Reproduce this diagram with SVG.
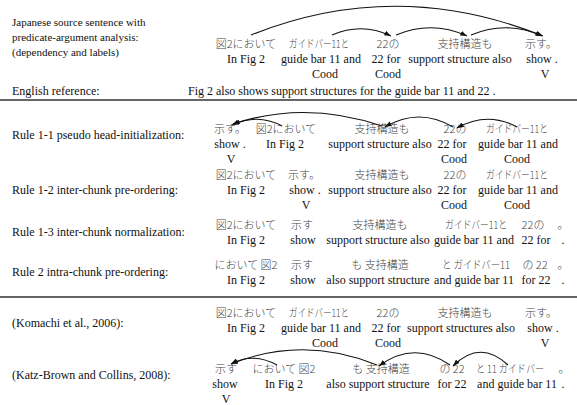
<svg xmlns="http://www.w3.org/2000/svg" width="577" height="405" viewBox="0 0 577 405">
<defs>
<style>
.lb{font-family:"Liberation Serif","Times New Roman",serif;font-size:12px;fill:#111}
.ls{font-family:"Liberation Serif","Times New Roman",serif;font-size:11px;fill:#111}
.en{font-family:"Liberation Serif","Times New Roman",serif;font-size:12px;fill:#111;text-anchor:middle}
.jp{font-family:"Noto Sans CJK JP",sans-serif;font-size:11px;font-weight:300;fill:#444;text-anchor:middle}
.arc{fill:none;stroke:#111;stroke-width:1.1;marker-end:url(#ah)}
.rule{stroke:#333;stroke-width:1.5}
</style>
<marker id="ah" viewBox="0 0 8 6" refX="8" refY="3" markerWidth="7" markerHeight="5" markerUnits="userSpaceOnUse" orient="auto">
<path d="M0,0 L8,3 L0,6 z" fill="#111"/>
</marker>
</defs>
<rect width="577" height="405" fill="#fff"/>

<g id="labels">
<text class="ls" x="12" y="26">Japanese source sentence with</text>
<text class="ls" x="12" y="41">predicate-argument analysis:</text>
<text class="ls" x="12" y="56">(dependency and labels)</text>
<text class="lb" x="12" y="95">English reference:</text>
<text class="lb" x="12" y="139">Rule 1-1 pseudo head-initialization:</text>
<text class="lb" x="12" y="194">Rule 1-2 inter-chunk pre-ordering:</text>
<text class="lb" x="12" y="236">Rule 1-3 inter-chunk normalization:</text>
<text class="lb" x="12" y="276">Rule 2 intra-chunk pre-ordering:</text>
<text class="lb" x="12" y="327">(Komachi et al., 2006):</text>
<text class="lb" x="12" y="379">(Katz-Brown and Collins, 2008):</text>
</g>

<g id="separators">
<line class="rule" x1="0" y1="100" x2="577" y2="100"/>
<line class="rule" x1="0" y1="297" x2="577" y2="297"/>
</g>

<g id="source">
<text class="jp" x="246" y="48">図2において</text>
<text class="jp" x="319" y="48" textLength="60" lengthAdjust="spacingAndGlyphs">ガイドバー11と</text>
<text class="jp" x="388" y="48">22の</text>
<text class="jp" x="465" y="48">支持構造も</text>
<text class="jp" x="541" y="48">示す。</text>
<text class="en" x="246" y="63">In Fig 2</text>
<text class="en" x="321" y="63">guide bar 11 and</text>
<text class="en" x="386" y="63">22 for</text>
<text class="en" x="460" y="63">support structure also</text>
<text class="en" x="542" y="63">show .</text>
<text class="en" x="325" y="78">Cood</text>
<text class="en" x="388" y="78">Cood</text>
<text class="en" x="545" y="78">V</text>
<text class="lb" x="188" y="95">Fig 2 also shows support structures for the guide bar 11 and 22 .</text>
</g>

<g id="rule11">
<text class="jp" x="230" y="133">示す。</text>
<text class="jp" x="286" y="133">図2において</text>
<text class="jp" x="382" y="133">支持構造も</text>
<text class="jp" x="455" y="133">22の</text>
<text class="jp" x="517" y="133" textLength="62" lengthAdjust="spacingAndGlyphs">ガイドバー11と</text>
<text class="en" x="230" y="148">show .</text>
<text class="en" x="285" y="148">In Fig 2</text>
<text class="en" x="380" y="148">support structure also</text>
<text class="en" x="452" y="148">22 for</text>
<text class="en" x="518" y="148">guide bar 11 and</text>
<text class="en" x="231" y="163">V</text>
<text class="en" x="454" y="163">Cood</text>
<text class="en" x="517" y="163">Cood</text>
</g>

<g id="rule12">
<text class="jp" x="246" y="179">図2において</text>
<text class="jp" x="304" y="179">示す。</text>
<text class="jp" x="382" y="179">支持構造も</text>
<text class="jp" x="455" y="179">22の</text>
<text class="jp" x="517" y="179" textLength="62" lengthAdjust="spacingAndGlyphs">ガイドバー11と</text>
<text class="en" x="246" y="194">In Fig 2</text>
<text class="en" x="305" y="194">show .</text>
<text class="en" x="380" y="194">support structure also</text>
<text class="en" x="452" y="194">22 for</text>
<text class="en" x="518" y="194">guide bar 11 and</text>
<text class="en" x="306" y="209">V</text>
<text class="en" x="454" y="209">Cood</text>
<text class="en" x="517" y="209">Cood</text>
</g>

<g id="rule13">
<text class="jp" x="246" y="229">図2において</text>
<text class="jp" x="302" y="229">示す</text>
<text class="jp" x="380" y="229">支持構造も</text>
<text class="jp" x="476" y="229" textLength="62" lengthAdjust="spacingAndGlyphs">ガイドバー11と</text>
<text class="jp" x="533" y="229">22の</text>
<text class="jp" x="563" y="229">。</text>
<text class="en" x="246" y="244">In Fig 2</text>
<text class="en" x="303" y="244">show</text>
<text class="en" x="378" y="244">support structure also</text>
<text class="en" x="474" y="244">guide bar 11 and</text>
<text class="en" x="536" y="244">22 for</text>
<text class="en" x="563" y="244">.</text>
</g>

<g id="rule2">
<text class="jp" x="246" y="269">において 図2</text>
<text class="jp" x="302" y="269">示す</text>
<text class="jp" x="380" y="269">も 支持構造</text>
<text class="jp" x="476" y="269" textLength="68" lengthAdjust="spacingAndGlyphs">と ガイドバー11</text>
<text class="jp" x="535" y="269">の 22</text>
<text class="jp" x="563" y="269">。</text>
<text class="en" x="246" y="284">In Fig 2</text>
<text class="en" x="303" y="284">show</text>
<text class="en" x="378" y="284">also support structure</text>
<text class="en" x="474" y="284">and guide bar 11</text>
<text class="en" x="536" y="284">for 22</text>
<text class="en" x="563" y="284">.</text>
</g>

<g id="komachi">
<text class="jp" x="246" y="317">図2において</text>
<text class="jp" x="319" y="317" textLength="60" lengthAdjust="spacingAndGlyphs">ガイドバー11と</text>
<text class="jp" x="388" y="317">22の</text>
<text class="jp" x="465" y="317">支持構造も</text>
<text class="jp" x="541" y="317">示す。</text>
<text class="en" x="246" y="332">In Fig 2</text>
<text class="en" x="321" y="332">guide bar 11 and</text>
<text class="en" x="386" y="332">22 for</text>
<text class="en" x="461" y="332">support structures also</text>
<text class="en" x="543" y="332">show .</text>
<text class="en" x="325" y="347">Cood</text>
<text class="en" x="388" y="347">Cood</text>
<text class="en" x="545" y="347">V</text>
</g>

<g id="katzbrown">
<text class="jp" x="226" y="373">示す</text>
<text class="jp" x="284" y="373">において 図2</text>
<text class="jp" x="381" y="373">も 支持構造</text>
<text class="jp" x="452" y="373">の 22</text>
<text class="jp" x="510" y="373" textLength="68" lengthAdjust="spacingAndGlyphs">と 11 ガイドバー</text>
<text class="jp" x="564" y="373">。</text>
<text class="en" x="225" y="388">show</text>
<text class="en" x="284" y="388">In Fig 2</text>
<text class="en" x="378" y="388">also support structure</text>
<text class="en" x="452" y="388">for 22</text>
<text class="en" x="517" y="388">and guide bar 11</text>
<text class="en" x="563" y="388">.</text>
<text class="en" x="226" y="403">V</text>
</g>

<g id="connectors">
<path class="arc" d="M251,35 Q396,-23 543,36"/>
<path class="arc" d="M332,35 Q362,22 391,36"/>
<path class="arc" d="M396,35 Q432,20 467,36"/>
<path class="arc" d="M471,35 Q507,20 542,36"/>

<path class="arc" d="M282,126 Q258,113 232,125"/>
<path class="arc" d="M382,126 Q305,100 233,124"/>
<path class="arc" d="M453,127 Q419,107 385,127"/>
<path class="arc" d="M517,127 Q487,111 457,128"/>

<path class="arc" d="M277,365 Q253,352 231,364"/>
<path class="arc" d="M377,365 Q303,335 231,364"/>
<path class="arc" d="M450,365 Q414,340 379,366"/>
<path class="arc" d="M508,365 Q480,339 453,366"/>
</g>
</svg>
